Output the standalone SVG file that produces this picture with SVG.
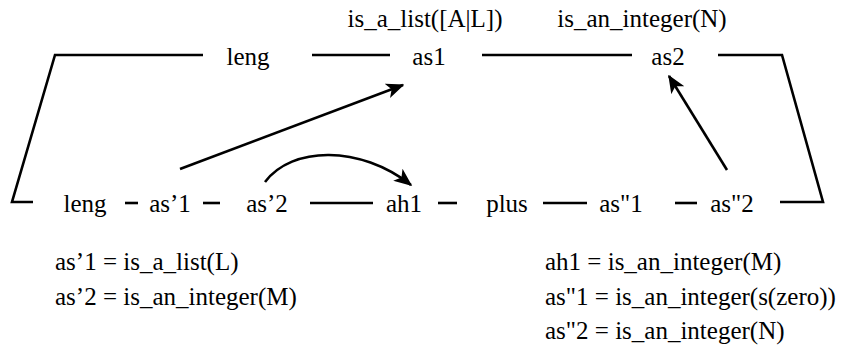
<svg xmlns="http://www.w3.org/2000/svg" width="847" height="355" viewBox="0 0 847 355">
<style>
text{font-family:"Liberation Serif","DejaVu Serif","Times New Roman",serif;font-size:25px;fill:#000}
.ln{stroke:#000;stroke-width:2.6;fill:none;stroke-linecap:butt;stroke-linejoin:miter}
.ar{stroke:#000;stroke-width:2.6;fill:none;marker-end:url(#ah)}
</style>
<defs>
<marker id="ah" viewBox="0 0 12 10" refX="11" refY="5" markerWidth="7" markerHeight="6" markerUnits="strokeWidth" orient="auto">
<path d="M0,0 L12,5 L0,10 L3,5 Z" fill="#000"/>
</marker>
</defs>
<g id="connectors">
<polyline class="ln" points="203,55 55,55 12,202 33,202"/>
<line class="ln" x1="312" y1="55" x2="390" y2="55"/>
<line class="ln" x1="482" y1="55" x2="632" y2="55"/>
<polyline class="ln" points="718,55 782,55 823,202 780,202"/>
<line class="ln" x1="125" y1="203" x2="138" y2="203"/>
<line class="ln" x1="203" y1="203" x2="220" y2="203"/>
<line class="ln" x1="310" y1="203" x2="373" y2="203"/>
<line class="ln" x1="438" y1="203" x2="457" y2="203"/>
<line class="ln" x1="543" y1="203" x2="587" y2="203"/>
<line class="ln" x1="675" y1="203" x2="697" y2="203"/>
<path class="ar" d="M180,169 L403,85"/>
<path class="ar" d="M265,182 C292,146 360,145 411,185"/>
<path class="ar" d="M727,170 L669,76"/>
</g>
<g id="leng-top"><text x="248" y="65" text-anchor="middle">leng</text></g>
<g id="as1"><text x="429" y="65" text-anchor="middle">as1</text><text x="425" y="27" text-anchor="middle">is_a_list([A|L])</text></g>
<g id="as2"><text x="668" y="65" text-anchor="middle">as2</text><text x="642" y="27" text-anchor="middle">is_an_integer(N)</text></g>
<g id="leng-bottom"><text x="85" y="212" text-anchor="middle">leng</text></g>
<g id="as-1"><text x="170" y="212" text-anchor="middle">as’1</text></g>
<g id="as-2"><text x="267" y="212" text-anchor="middle">as’2</text></g>
<g id="ah1"><text x="404" y="212" text-anchor="middle">ah1</text></g>
<g id="plus"><text x="507" y="212" text-anchor="middle">plus</text></g>
<g id="as-dd1"><text x="621" y="212" text-anchor="middle">as"1</text></g>
<g id="as-dd2"><text x="732" y="212" text-anchor="middle">as"2</text></g>
<g id="legend">
<text x="55" y="270">as’1 = is_a_list(L)</text>
<text x="55" y="305">as’2 = is_an_integer(M)</text>
<text x="545" y="270">ah1 = is_an_integer(M)</text>
<text x="545" y="305">as"1 = is_an_integer(s(zero))</text>
<text x="545" y="339">as"2 = is_an_integer(N)</text>
</g>
</svg>
